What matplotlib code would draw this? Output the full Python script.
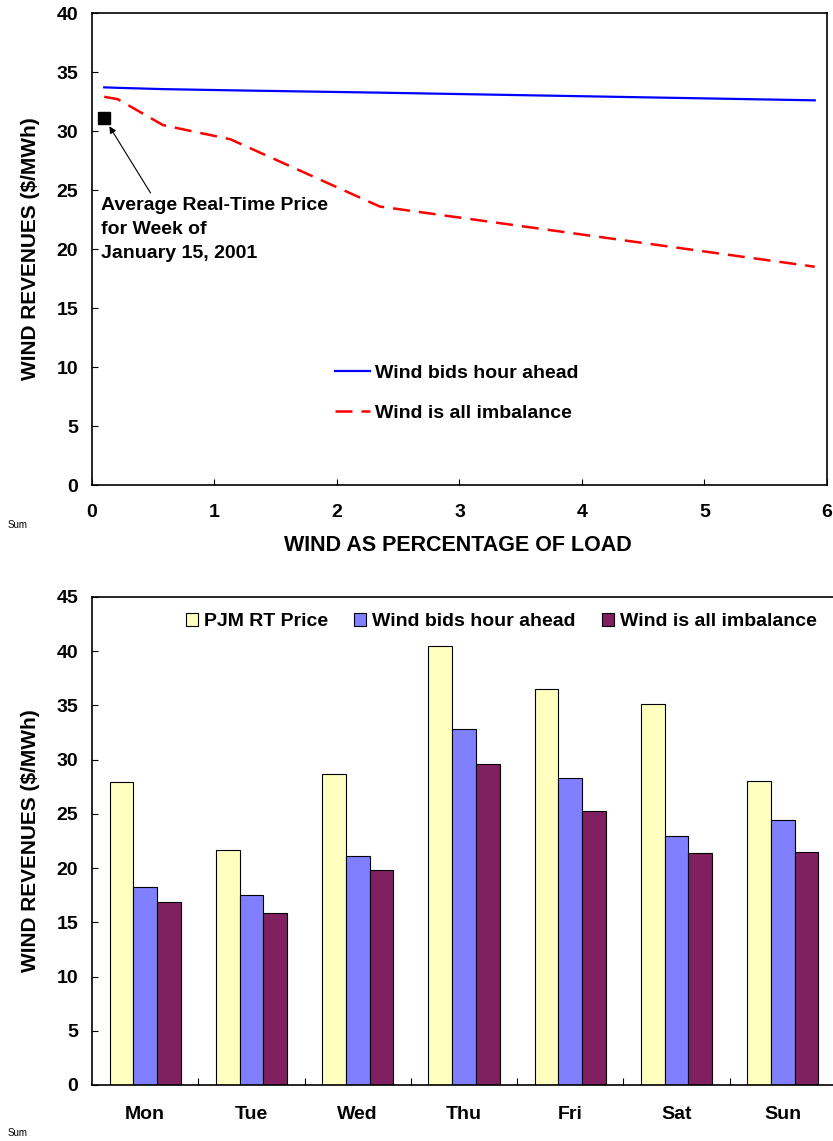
import numpy as np
import matplotlib
matplotlib.use("Agg")
import matplotlib.pyplot as plt

plt.rcParams['font.family'] = ['Liberation Sans', 'DejaVu Sans']
plt.rcParams['font.weight'] = 'bold'

# Top chart: revenues vs wind penetration
wind_pct = [0.1, 0.21, 0.58, 1.13, 2.35, 5.9]
hour_ahead = [33.7, 33.66, 33.55, 33.45, 33.25, 32.6]
imbalance = [32.9, 32.7, 30.5, 29.3, 23.6, 18.5]
avg_rt_x = 0.1
avg_rt_price = 31.1

# Bottom chart: daily revenues
days = ["Mon", "Tue", "Wed", "Thu", "Fri", "Sat", "Sun"]
pjm_rt = [27.9, 21.7, 28.7, 40.5, 36.5, 35.1, 28.0]
bids_hour_ahead = [18.3, 17.5, 21.1, 32.8, 28.3, 23.0, 24.4]
all_imbalance = [16.9, 15.9, 19.8, 29.6, 25.3, 21.4, 21.5]

fig = plt.figure(figsize=(8.33, 11.41), dpi=100)

# ---- top chart
ax1 = fig.add_axes([0.1104, 0.5749, 0.8824, 0.4137])
ax1.plot(wind_pct, hour_ahead, color='#0000FF', lw=1.6, label='Wind bids hour ahead')
ax1.plot(wind_pct, imbalance, color='#FF0000', lw=1.8, dashes=(6.8, 3.6),
         label='Wind is all imbalance')
ax1.plot([avg_rt_x], [avg_rt_price], marker='s', color='black', ms=8.5, ls='none')
ax1.annotate("", xy=(avg_rt_x + 0.03, avg_rt_price - 0.5), xytext=(0.49, 24.55),
             arrowprops=dict(arrowstyle='-|>', color='black', lw=0.8, mutation_scale=10))
ax1.text(0.074, 24.45, "Average Real-Time Price\nfor Week of\nJanuary 15, 2001",
         fontsize=14, fontweight='bold', va='top', ha='left', linespacing=1.55)

ax1.set_xlim(0, 6)
ax1.set_ylim(0, 40)
ax1.set_xticks(range(0, 7))
ax1.set_yticks(range(0, 41, 5))
ax1.tick_params(axis='both', direction='in', length=4, labelsize=14)
ax1.tick_params(axis='x', pad=14)
ax1.tick_params(axis='y', pad=10)
for s in ax1.spines.values():
    s.set_linewidth(1.2)
ax1.set_xlabel("WIND AS PERCENTAGE OF LOAD", fontsize=15.5, fontweight='bold')
ax1.set_ylabel("WIND REVENUES ($/MWh)", fontsize=15, fontweight='bold')
ax1.xaxis.set_label_coords(0.498, -0.105)
ax1.yaxis.set_label_coords(-0.071, 0.5)
ax1.legend(loc='center left', bbox_to_anchor=(0.3306, 0.195), frameon=False,
           fontsize=14, handlelength=1.8, handletextpad=0.27, labelspacing=1.15,
           borderpad=0, borderaxespad=0)

# ---- bottom chart
ax2 = fig.add_axes([0.1104, 0.0491, 0.8932, 0.4277])
x = np.arange(len(days))
w = 0.223
ax2.bar(x - w, pjm_rt, w, color='#FFFFC0', edgecolor='black', lw=0.8, label='PJM RT Price')
ax2.bar(x, bids_hour_ahead, w, color='#8080FF', edgecolor='black', lw=0.8,
        label='Wind bids hour ahead')
ax2.bar(x + w, all_imbalance, w, color='#802060', edgecolor='black', lw=0.8,
        label='Wind is all imbalance')

ax2.set_xlim(-0.5, 6.5)
ax2.set_ylim(0, 45)
ax2.set_yticks(range(0, 46, 5))
ax2.set_xticks(np.arange(0.5, 6, 1))
ax2.set_xticklabels([])
ax2.set_xticks(x, minor=True)
ax2.set_xticklabels(days, minor=True)
ax2.tick_params(axis='x', which='major', direction='in', length=5)
ax2.tick_params(axis='x', which='minor', length=0, pad=15, labelsize=14)
ax2.tick_params(axis='y', direction='in', length=4, labelsize=14, pad=10)
ax2.spines['right'].set_visible(False)
for s in ax2.spines.values():
    s.set_linewidth(1.2)
ax2.set_ylabel("WIND REVENUES ($/MWh)", fontsize=15, fontweight='bold')
ax2.yaxis.set_label_coords(-0.070, 0.5)
ax2.legend(loc='center left', bbox_to_anchor=(0.1263, 0.949), frameon=False, ncol=3,
           fontsize=14, handlelength=0.62, handleheight=0.62, handletextpad=0.31,
           columnspacing=1.34, borderpad=0, borderaxespad=0)

fig.text(8 / 833, 1 - 525 / 1141, "Sum", fontsize=7, fontweight='normal', va='center')
fig.text(8 / 833, 1 - 1133 / 1141, "Sum", fontsize=7, fontweight='normal', va='center')

fig.savefig("out.png", dpi=100)
